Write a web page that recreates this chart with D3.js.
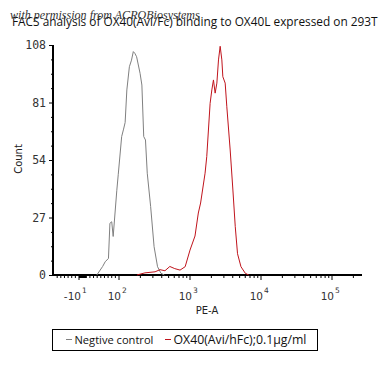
<!DOCTYPE html>
<html>
<head>
<meta charset="utf-8">
<script src="https://cdn.jsdelivr.net/npm/d3@7"></script>
<style>
  body { margin: 0; background: #fff; }
  svg { display: block; }
</style>
</head>
<body>
<svg id="chart" width="384" height="366"></svg>
<script>
// histogram traces (PE-A value, count)
var negX = [39, 55, 62, 71, 75, 80, 84, 94, 98, 109, 116, 122, 129, 140, 150, 159, 167, 177, 198, 210, 223, 236, 250, 279, 312, 349, 390, 436];
var negY = [0, 4, 6.2, 7.8, 24.3, 25, 18.1, 39.8, 47.3, 65, 68.5, 71.6, 86.9, 97.8, 100.9, 104.9, 104.1, 102.5, 94.7, 89.2, 65, 63.4, 47.8, 32.2, 13.3, 3.9, 0.8, 0];

var posX = [179, 232, 322, 378, 444, 520, 610, 724, 855, 1000, 1176, 1310, 1410, 1630, 1722, 1920, 2030, 2140, 2260, 2390, 2520, 2660, 2810, 2900, 3130, 3300, 3680, 4020, 4340, 4670, 5220, 6010, 6720];
var posY = [0, 1, 1.5, 2.5, 2, 4, 3, 2.3, 3.9, 11.7, 18.3, 29.1, 33.8, 47.8, 55.6, 80.6, 86.9, 91.6, 85.4, 90.1, 101, 107.4, 101, 93.1, 90.1, 79, 58.7, 39.9, 22.7, 10, 3.9, 0.8, 0];

var yTicks = [0, 27, 54, 81, 108];
var xMajor = [-10, 100, 1000, 10000, 100000];
var xLabels = [["-10", "1"], ["10", "2"], ["10", "3"], ["10", "4"], ["10", "5"]];
var seriesNames = ["Negtive control", "OX40(Avi/hFc);0.1\u03bcg/ml"];
var seriesColors = ["#808080", "#c0141c"];
var titleText = "FACS analysis of OX40(Avi/Fc) binding to OX40L expressed on 293T";
var noteText = "with permission from ACROBiosystems";

var svg = d3.select("#chart");
var mLeft = 53, mBottom = 275, mTop = 45, mRight = 362;

// x: linear around zero, log above 100 (biexponential-like display)
var xLin = d3.scaleLinear().domain([-10, 100]).range([79, 119]);
var xLog = d3.scaleLog().domain([100, 100000]).range([119, 332]);
function x(v) { return v < 100 ? xLin(v) : xLog(v); }
var y = d3.scaleLinear().domain([0, 108]).range([mBottom, mTop]);

//fit a text to a given width by changing its font size
function fit(sel, w) {
  var n = sel.node(), fs = parseFloat(sel.attr("font-size"));
  var len = n.getComputedTextLength();
  sel.attr("font-size", (fs * w / len).toFixed(2));
}

// minor ticks on x
var xMinor = [];
for (var i = -70; i <= -20; i += 10) xMinor.push(i);
for (var i = -9; i <= 9; i++) xMinor.push(i);
for (var i = 10; i <= 90; i += 10) xMinor.push(i);
[100, 1000, 10000, 100000].forEach(function (d) {
  for (var k = 2; k <= 9; k++) if (d * k < xLog.invert(mRight)) xMinor.push(d * k);
});

var gx = svg.append("g");
gx.selectAll("line.minor").data(xMinor).enter().append("line")
  .attr("x1", function (d) { return x(d); }).attr("x2", function (d) { return x(d); })
  .attr("y1", mBottom).attr("y2", mBottom + 3)
  .attr("stroke", "#000").attr("stroke-width", 1);
gx.selectAll("line.major").data(xMajor).enter().append("line")
  .attr("x1", function (d) { return x(d); }).attr("x2", function (d) { return x(d); })
  .attr("y1", mBottom).attr("y2", mBottom + 5)
  .attr("stroke", "#000").attr("stroke-width", 1);
gx.append("line").attr("x1", mLeft - 1).attr("x2", mRight).attr("y1", mBottom).attr("y2", mBottom)
  .attr("stroke", "#000").attr("stroke-width", 2);

var lab = gx.selectAll("g.lab").data(xMajor).enter().append("g")
  .attr("transform", function (d) { return "translate(" + x(d) + ",0)"; });
lab.append("text").attr("x", 2).attr("y", 300).attr("text-anchor", "end")
  .attr("font-family", "DejaVu Sans").attr("font-size", 10.5).attr("fill", "#333")
  .text(function (d, i) { return xLabels[i][0]; });
lab.append("text").attr("x", 3).attr("y", 293).attr("text-anchor", "start")
  .attr("font-family", "DejaVu Sans").attr("font-size", 7.5).attr("fill", "#333")
  .text(function (d, i) { return xLabels[i][1]; });

svg.append("text").attr("x", 207).attr("y", 314).attr("text-anchor", "middle")
  .attr("font-family", "DejaVu Sans").attr("font-size", 10).attr("fill", "#222").text("PE-A");

// y axis
var yMinor = d3.range(0, 108.01, 6.75).filter(function (d) { return yTicks.indexOf(d) < 0; });
var gy = svg.append("g").attr("transform", "translate(" + mLeft + ",0)");
gy.append("g").call(d3.axisLeft(y).tickValues(yMinor).tickSize(2).tickFormat(""));
gy.append("g").call(d3.axisLeft(y).tickValues(yTicks).tickSize(4).tickPadding(3));
gy.selectAll(".domain").remove();
gy.selectAll("line").attr("stroke", "#000");
gy.selectAll("text").attr("font-family", "DejaVu Sans Mono").attr("font-size", 11.5).attr("fill", "#333");
svg.append("line").attr("x1", mLeft).attr("x2", mLeft).attr("y1", mTop).attr("y2", mBottom + 1)
  .attr("stroke", "#000").attr("stroke-width", 2);

svg.append("text").attr("transform", "translate(22,159) rotate(-90)").attr("text-anchor", "middle")
  .attr("font-family", "DejaVu Sans").attr("font-size", 10).attr("fill", "#222").text("Count");

// traces
var line = d3.line().x(function (d) { return x(d[0]); }).y(function (d) { return y(d[1]); });
svg.append("path").datum(d3.zip(negX, negY)).attr("d", line)
  .attr("fill", "none").attr("stroke", seriesColors[0]).attr("stroke-width", 1);
svg.append("path").datum(d3.zip(posX, posY)).attr("d", line)
  .attr("fill", "none").attr("stroke", seriesColors[1]).attr("stroke-width", 1);

// title and note (the note overlaps the title in the original too)
var t = svg.append("text").attr("x", 12).attr("y", 26)
  .attr("font-family", "Open Sans").attr("font-size", 11).attr("fill", "#111").text(titleText);
fit(t, 366);
var n = svg.append("text").attr("x", 10).attr("y", 19)
  .attr("font-family", "Liberation Serif").attr("font-style", "italic").attr("font-size", 10)
  .attr("fill", "#333").text(noteText);
fit(n, 190);

// legend
var lg = svg.append("g");
lg.append("rect").attr("x", 52.5).attr("y", 329.5).attr("width", 265).attr("height", 21)
  .attr("fill", "#fff").attr("stroke", "#000").attr("stroke-width", 1);
var lx = [66, 165], tw = [79, 133];
seriesNames.forEach(function (s, i) {
  lg.append("line").attr("x1", lx[i]).attr("x2", lx[i] + 6).attr("y1", 339.5).attr("y2", 339.5)
    .attr("stroke", seriesColors[i]).attr("stroke-width", 1);
  var tt = lg.append("text").attr("x", lx[i] + 8.5).attr("y", 344)
    .attr("font-family", "Open Sans").attr("font-size", 10).attr("fill", "#111").text(s);
  fit(tt, tw[i]);
});
</script>
</body>
</html>
